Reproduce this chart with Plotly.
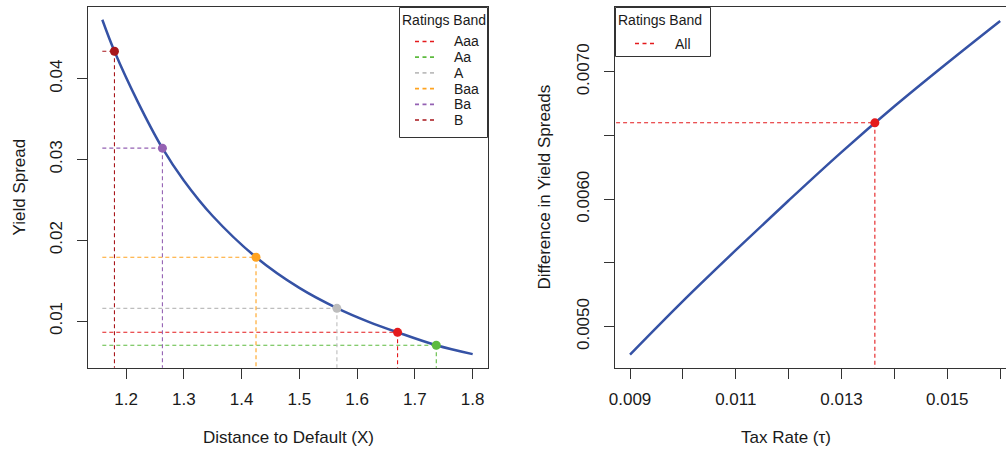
import plotly.graph_objects as go

# ---------------- data ----------------
# Left panel: yield spread curve vs distance to default
curve_x = [1.159, 1.18, 1.22, 1.263, 1.30, 1.35, 1.425, 1.50, 1.565, 1.62, 1.67, 1.737, 1.80]
curve_y = [0.0473, 0.0434, 0.0372, 0.0314, 0.0274, 0.0230, 0.0179, 0.0141, 0.0116, 0.0099, 0.0086, 0.0070, 0.0059]

bands = ["Aaa", "Aa", "A", "Baa", "Ba", "B"]
band_x = [1.670, 1.737, 1.565, 1.425, 1.263, 1.180]
band_y = [0.0086, 0.0070, 0.01157, 0.0179, 0.0314, 0.0434]
band_colors = ["#E41A1C", "#5DBB3F", "#BDBDBD", "#FFA320", "#9461B3", "#A8161B"]

# Right panel: difference in yield spreads vs tax rate
tax_x = [0.009, 0.010, 0.011, 0.012, 0.013, 0.014, 0.015, 0.016]
tax_y = [0.00478, 0.00520, 0.00560, 0.00599, 0.00637, 0.00673, 0.00707, 0.00740]
all_label = "All"
all_x = 0.01363
all_y = 0.00660
all_color = "#E41A1C"

left_xticks = [1.2, 1.3, 1.4, 1.5, 1.6, 1.7, 1.8]
left_yticks = [0.01, 0.02, 0.03, 0.04]
right_xticks = [0.009, 0.010, 0.011, 0.012, 0.013, 0.014, 0.015, 0.016]
right_xlabels = ["0.009", "", "0.011", "", "0.013", "", "0.015", ""]
right_yticks = [0.0050, 0.0055, 0.0060, 0.0065, 0.0070]
right_ylabels = ["0.0050", "", "0.0060", "", "0.0070"]

legend_title = "Ratings Band"

# ---------------- layout geometry ----------------
W, H = 1006, 450
def px(x):
    return x / W
def py(y):
    return 1 - y / H

FONT = "Liberation Sans, Arial, Helvetica, sans-serif"
TXT = "#1a1a1a"
CURVE = "#3552A5"
DASH = "4px,3px"
BOX = "#333333"

fig = go.Figure()

# left curve
fig.add_trace(go.Scatter(x=curve_x, y=curve_y, mode="lines", line=dict(color=CURVE, width=2.5, shape="spline"),
                         xaxis="x", yaxis="y", showlegend=False, hoverinfo="skip"))
x_left0 = curve_x[0]
for name, bx, by, c in zip(bands, band_x, band_y, band_colors):
    fig.add_trace(go.Scatter(x=[x_left0, bx], y=[by, by], mode="lines", line=dict(color=c, width=1.1, dash=DASH),
                             xaxis="x", yaxis="y", showlegend=False, hoverinfo="skip"))
    fig.add_trace(go.Scatter(x=[bx, bx], y=[by, 0], mode="lines", line=dict(color=c, width=1.1, dash=DASH),
                             xaxis="x", yaxis="y", showlegend=False, hoverinfo="skip"))
for name, bx, by, c in zip(bands, band_x, band_y, band_colors):
    fig.add_trace(go.Scatter(x=[bx], y=[by], mode="markers", marker=dict(color=c, size=9),
                             xaxis="x", yaxis="y", showlegend=False, name=name, cliponaxis=False))

# right curve
fig.add_trace(go.Scatter(x=tax_x, y=tax_y, mode="lines", line=dict(color=CURVE, width=2.5, shape="spline"),
                         xaxis="x2", yaxis="y2", showlegend=False, hoverinfo="skip"))
fig.add_trace(go.Scatter(x=[0.0, all_x], y=[all_y, all_y], mode="lines", line=dict(color=all_color, width=1.1, dash=DASH),
                         xaxis="x2", yaxis="y2", showlegend=False, hoverinfo="skip"))
fig.add_trace(go.Scatter(x=[all_x, all_x], y=[all_y, 0.0], mode="lines", line=dict(color=all_color, width=1.1, dash=DASH),
                         xaxis="x2", yaxis="y2", showlegend=False, hoverinfo="skip"))
fig.add_trace(go.Scatter(x=[all_x], y=[all_y], mode="markers", marker=dict(color=all_color, size=9),
                         xaxis="x2", yaxis="y2", showlegend=False, name=all_label))

# ---- hand-drawn legends on a full-figure overlay frame (pixel units) ----
annos = []
leg_font = dict(family=FONT, size=14, color=TXT)

def legend_box(x0, x1, y0, y1):
    fig.add_trace(go.Scatter(x=[x0, x1, x1, x0, x0], y=[y0, y0, y1, y1, y0], mode="lines", fill="toself",
                             fillcolor="white", line=dict(color=BOX, width=1),
                             xaxis="x3", yaxis="y3", showlegend=False, hoverinfo="skip"))

def legend_entry(xd0, xd1, xt, yy, color, label):
    fig.add_trace(go.Scatter(x=[xd0, xd1], y=[yy, yy], mode="lines", line=dict(color=color, width=1.7, dash="4px,3.5px"),
                             xaxis="x3", yaxis="y3", showlegend=False, hoverinfo="skip"))
    annos.append(dict(text=label, x=px(xt), y=py(yy), xref="paper", yref="paper", showarrow=False,
                      font=leg_font, xanchor="left", yanchor="middle"))

legend_box(399.5, 487.5, 7.5, 137.5)
annos.append(dict(text=legend_title, x=px(443.7), y=py(20), xref="paper", yref="paper", showarrow=False,
                  font=leg_font, xanchor="center", yanchor="middle"))
for i, (name, c) in enumerate(zip(bands, band_colors)):
    legend_entry(415, 437, 451.5, 41.5 + 15.7 * i, c, name)

legend_box(615.5, 710.5, 7.5, 56.5)
annos.append(dict(text=legend_title, x=px(660), y=py(20), xref="paper", yref="paper", showarrow=False,
                  font=leg_font, xanchor="center", yanchor="middle"))
legend_entry(635, 656, 673, 43.5, all_color, all_label)

axis_common = dict(showgrid=False, zeroline=False, showline=True, linecolor=BOX, linewidth=1,
                   ticks="outside", ticklen=10, tickcolor=BOX, tickwidth=1, automargin=False,
                   tickfont=dict(family=FONT, size=17, color=TXT))

ydom = [py(367.7), py(7.3)]
fig.update_layout(
    width=W, height=H, margin=dict(l=0, r=0, t=0, b=0, autoexpand=False),
    paper_bgcolor="white", plot_bgcolor="rgba(0,0,0,0)", showlegend=False,
    xaxis=dict(domain=[px(87.7), px(487.7)], range=[1.1337, 1.826], tickvals=left_xticks,
               ticktext=[f"{v:.1f}" for v in left_xticks], mirror=True, anchor="y",
               ticklabelstandoff=6, **axis_common),
    yaxis=dict(domain=ydom, range=[0.00422, 0.04884], tickvals=left_yticks,
               ticktext=[f"{v:.2f}" for v in left_yticks], mirror=True, anchor="x",
               tickangle=-90, ticklabelstandoff=8, **axis_common),
    xaxis2=dict(domain=[px(615), 1.0], range=[0.008716, 0.01611], tickvals=right_xticks,
                ticktext=right_xlabels, mirror=True, anchor="y2",
                ticklabelstandoff=6, **axis_common),
    yaxis2=dict(domain=ydom, range=[0.004677, 0.007507], tickvals=right_yticks,
                ticktext=right_ylabels, mirror=False, anchor="x2",
                tickangle=-90, ticklabelstandoff=8, **axis_common),
    xaxis3=dict(domain=[0, 1], range=[0, W], visible=False, fixedrange=True, anchor="y3"),
    yaxis3=dict(domain=[0, 1], range=[H, 0], visible=False, fixedrange=True, anchor="x3"),
)

title_font = dict(family=FONT, size=17, color=TXT)
annos.append(dict(text="Distance to Default (X)", x=px(288), y=py(437), xref="paper", yref="paper",
                  showarrow=False, font=title_font, xanchor="center", yanchor="middle"))
annos.append(dict(text="Tax Rate (τ)", x=px(786), y=py(437), xref="paper", yref="paper",
                  showarrow=False, font=title_font, xanchor="center", yanchor="middle"))
annos.append(dict(text="Yield Spread", x=px(19), y=py(187.5), xref="paper", yref="paper", textangle=-90,
                  showarrow=False, font=title_font, xanchor="center", yanchor="middle"))
annos.append(dict(text="Difference in Yield Spreads", x=px(544), y=py(187.5), xref="paper", yref="paper", textangle=-90,
                  showarrow=False, font=title_font, xanchor="center", yanchor="middle"))

fig.update_layout(annotations=annos)
fig.write_html("out.html")
